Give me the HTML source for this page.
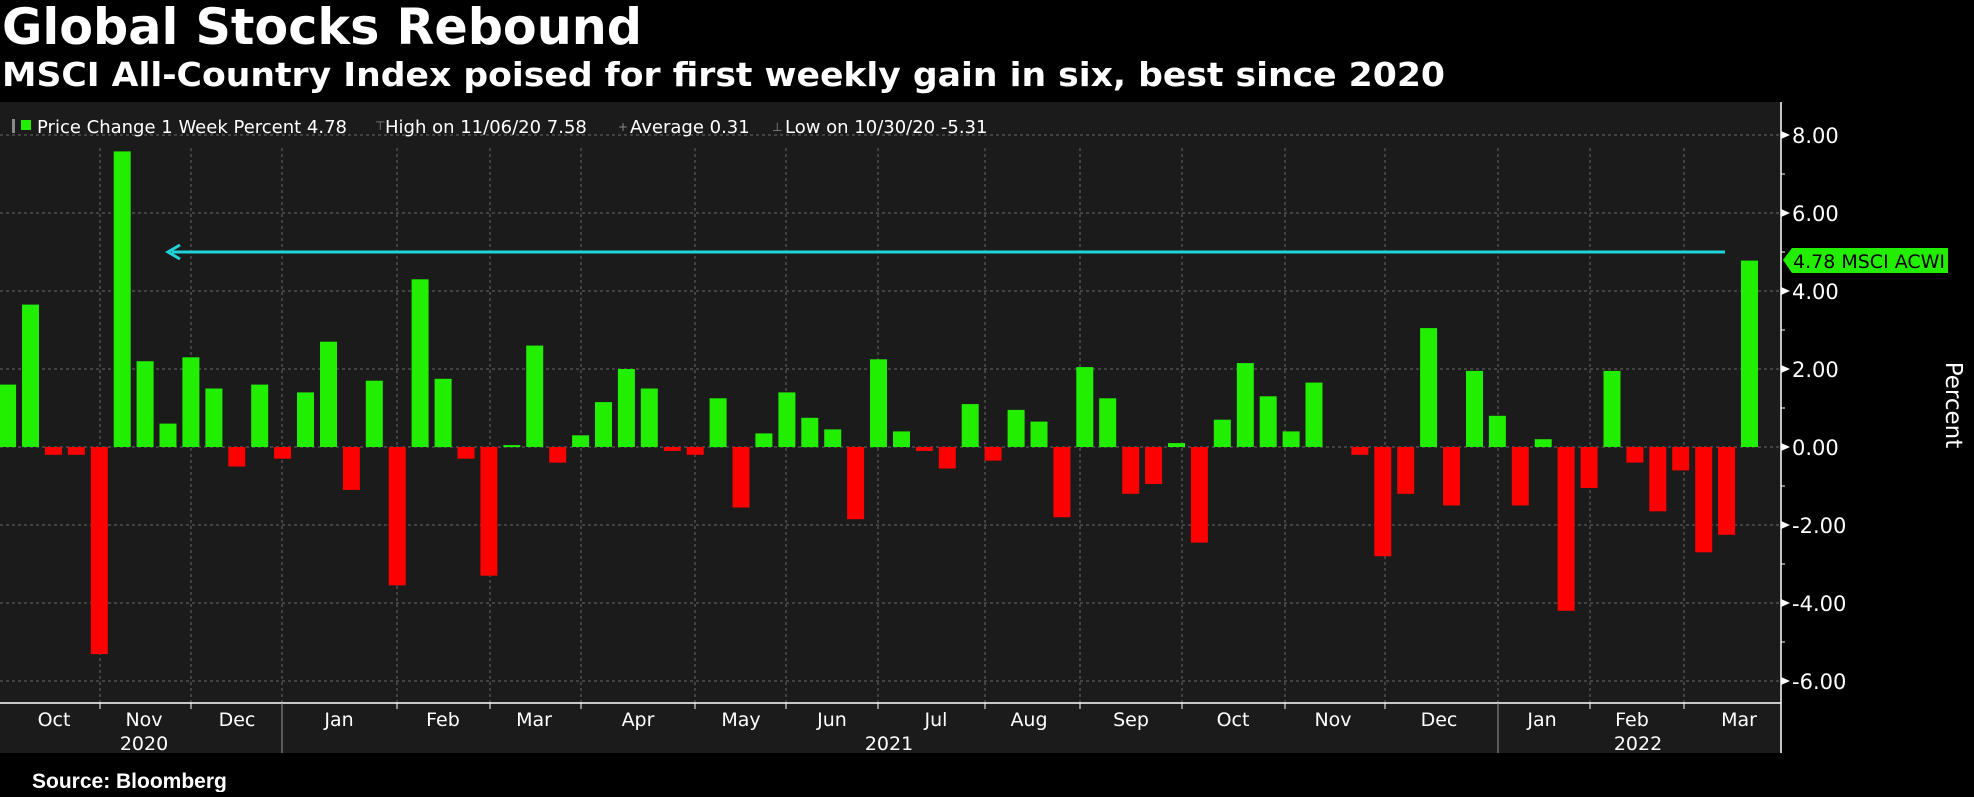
<!DOCTYPE html>
<html><head><meta charset="utf-8">
<style>
html,body{margin:0;padding:0;background:#000;}
body{width:1974px;height:792px;overflow:hidden;position:relative;font-family:"Liberation Sans",sans-serif;}
</style></head><body>
<svg width="1974" height="792" xmlns="http://www.w3.org/2000/svg" font-family="Liberation Sans, DejaVu Sans, sans-serif">
<rect x="0" y="0" width="1974" height="792" fill="#000"/>
<text x="2" y="44" fill="#fff" font-size="50" font-weight="bold" font-family="DejaVu Sans, sans-serif" textLength="640" lengthAdjust="spacingAndGlyphs">Global Stocks Rebound</text>
<text x="2" y="86" fill="#fff" font-size="33" font-weight="bold" font-family="DejaVu Sans, sans-serif" textLength="1443" lengthAdjust="spacingAndGlyphs">MSCI All-Country Index poised for first weekly gain in six, best since 2020</text>
<rect x="0" y="102" width="1781" height="651" fill="#1b1b1b"/>
<g stroke="#6a6a6a" stroke-width="1" stroke-dasharray="3,3">
<line x1="0" y1="135" x2="1781" y2="135"/><line x1="0" y1="213" x2="1781" y2="213"/>
<line x1="0" y1="291" x2="1781" y2="291"/><line x1="0" y1="369" x2="1781" y2="369"/>
<line x1="0" y1="447" x2="1781" y2="447"/><line x1="0" y1="525" x2="1781" y2="525"/>
<line x1="0" y1="603" x2="1781" y2="603"/><line x1="0" y1="681" x2="1781" y2="681"/>
<line x1="100" y1="148" x2="100" y2="703"/><line x1="191" y1="148" x2="191" y2="703"/>
<line x1="282" y1="148" x2="282" y2="703"/><line x1="397" y1="148" x2="397" y2="703"/>
<line x1="490" y1="148" x2="490" y2="703"/><line x1="581" y1="148" x2="581" y2="703"/>
<line x1="695" y1="148" x2="695" y2="703"/><line x1="786" y1="148" x2="786" y2="703"/>
<line x1="878" y1="148" x2="878" y2="703"/><line x1="985" y1="148" x2="985" y2="703"/>
<line x1="1080" y1="148" x2="1080" y2="703"/><line x1="1182" y1="148" x2="1182" y2="703"/>
<line x1="1285" y1="148" x2="1285" y2="703"/><line x1="1385" y1="148" x2="1385" y2="703"/>
<line x1="1498" y1="148" x2="1498" y2="703"/><line x1="1590" y1="148" x2="1590" y2="703"/>
<line x1="1684" y1="148" x2="1684" y2="703"/>
</g>
<g id="bars"></g>
<line x1="172" y1="252" x2="1725" y2="252" stroke="#1fd3d8" stroke-width="3"/>
<polyline points="180,245 168,252 180,259" fill="none" stroke="#1fd3d8" stroke-width="3"/>
<line x1="0" y1="703" x2="1781" y2="703" stroke="#fff" stroke-width="1.5"/>
<line x1="1781" y1="102" x2="1781" y2="753" stroke="#fff" stroke-width="1.5"/>
<g fill="#fff" font-size="21" font-family="DejaVu Sans, sans-serif">
<text x="1792" y="143">8.00</text><text x="1792" y="221">6.00</text>
<text x="1792" y="299">4.00</text><text x="1792" y="377">2.00</text>
<text x="1792" y="455">0.00</text><text x="1792" y="533">-2.00</text>
<text x="1792" y="611">-4.00</text><text x="1792" y="689">-6.00</text>
</g>
<g fill="#fff">
<polygon points="1781,131 1790,135 1781,139"/><polygon points="1781,209 1790,213 1781,217"/>
<polygon points="1781,287 1790,291 1781,295"/><polygon points="1781,365 1790,369 1781,373"/>
<polygon points="1781,443 1790,447 1781,451"/><polygon points="1781,521 1790,525 1781,529"/>
<polygon points="1781,599 1790,603 1781,607"/><polygon points="1781,677 1790,681 1781,685"/>
</g>
<g stroke="#fff"><line x1="1781" y1="174" x2="1785" y2="174"/><line x1="1781" y1="252" x2="1785" y2="252"/><line x1="1781" y1="330" x2="1785" y2="330"/><line x1="1781" y1="408" x2="1785" y2="408"/><line x1="1781" y1="486" x2="1785" y2="486"/><line x1="1781" y1="564" x2="1785" y2="564"/><line x1="1781" y1="642" x2="1785" y2="642"/></g>
<polygon points="1783,260 1792,248 1948,248 1948,273 1792,273" fill="#22ee00"/>
<text x="1793" y="268" fill="#000" font-size="19" font-family="DejaVu Sans, sans-serif">4.78 MSCI ACWI</text>
<text transform="translate(1946,405) rotate(90)" text-anchor="middle" fill="#fff" font-size="23" font-family="DejaVu Sans, sans-serif">Percent</text>
<g fill="#fff" font-size="18" font-family="DejaVu Sans, sans-serif">
<rect x="12" y="119" width="3" height="14" fill="#888"/>
<rect x="21" y="120" width="10" height="10" fill="#22ee00"/>
<text x="37" y="133">Price Change 1 Week Percent 4.78</text>
<text x="375" y="130" fill="#888" font-size="12">⊤</text>
<text x="385" y="133">High on 11/06/20 7.58</text>
<text x="618" y="131" fill="#888" font-size="12">+</text>
<text x="630" y="133">Average 0.31</text>
<text x="772" y="131" fill="#888" font-size="12">⊥</text>
<text x="785" y="133">Low on 10/30/20 -5.31</text>
</g>
<g stroke="#fff"><line x1="100" y1="703" x2="100" y2="709"/><line x1="191" y1="703" x2="191" y2="709"/><line x1="397" y1="703" x2="397" y2="709"/><line x1="490" y1="703" x2="490" y2="709"/><line x1="581" y1="703" x2="581" y2="709"/><line x1="695" y1="703" x2="695" y2="709"/><line x1="786" y1="703" x2="786" y2="709"/><line x1="878" y1="703" x2="878" y2="709"/><line x1="985" y1="703" x2="985" y2="709"/><line x1="1080" y1="703" x2="1080" y2="709"/><line x1="1182" y1="703" x2="1182" y2="709"/><line x1="1285" y1="703" x2="1285" y2="709"/><line x1="1385" y1="703" x2="1385" y2="709"/><line x1="1590" y1="703" x2="1590" y2="709"/><line x1="1684" y1="703" x2="1684" y2="709"/>
<line x1="282" y1="703" x2="282" y2="753" stroke="#999"/><line x1="1498" y1="703" x2="1498" y2="753" stroke="#999"/></g>
<g fill="#fff" font-size="19" font-family="DejaVu Sans, sans-serif" text-anchor="middle">
<text x="54" y="726">Oct</text><text x="144" y="726">Nov</text><text x="237" y="726">Dec</text>
<text x="339" y="726">Jan</text><text x="443" y="726">Feb</text><text x="534" y="726">Mar</text>
<text x="638" y="726">Apr</text><text x="741" y="726">May</text><text x="832" y="726">Jun</text>
<text x="936" y="726">Jul</text><text x="1029" y="726">Aug</text><text x="1131" y="726">Sep</text>
<text x="1233" y="726">Oct</text><text x="1333" y="726">Nov</text><text x="1439" y="726">Dec</text>
<text x="1542" y="726">Jan</text><text x="1632" y="726">Feb</text><text x="1739" y="726">Mar</text>
<text x="144" y="750">2020</text><text x="889" y="750">2021</text><text x="1638" y="750">2022</text>
</g>
<text x="32" y="788" fill="#fff" font-size="21" font-weight="bold">Source: Bloomberg</text>
</svg>
<script>
var v=[1.6,3.65,-0.2,-0.2,-5.31,7.58,2.2,0.6,2.3,1.5,-0.5,1.6,-0.3,1.4,2.7,-1.1,1.7,-3.55,4.3,1.75,-0.3,-3.3,0.05,2.6,-0.4,0.3,1.15,2.0,1.5,-0.1,-0.2,1.25,-1.55,0.35,1.4,0.75,0.45,-1.85,2.25,0.4,-0.1,-0.55,1.1,-0.35,0.95,0.65,-1.8,2.05,1.25,-1.2,-0.95,0.1,-2.45,0.7,2.15,1.3,0.4,1.65,0,-0.2,-2.8,-1.2,3.05,-1.5,1.95,0.8,-1.5,0.2,-4.2,-1.05,1.95,-0.4,-1.65,-0.6,-2.7,-2.25,4.78];
var g=document.getElementById('bars'),s='';
for(var i=0;i<v.length;i++){var x=-0.92+22.92*i,h=Math.abs(v[i])*39,y=v[i]>=0?447-h:447;
if(h<0.5)continue;s+='<rect x="'+x.toFixed(1)+'" y="'+y.toFixed(1)+'" width="17" height="'+h.toFixed(1)+'" fill="'+(v[i]>=0?'#22ee00':'#ff0000')+'"/>';}
g.innerHTML=s;
</script>
</body></html>
